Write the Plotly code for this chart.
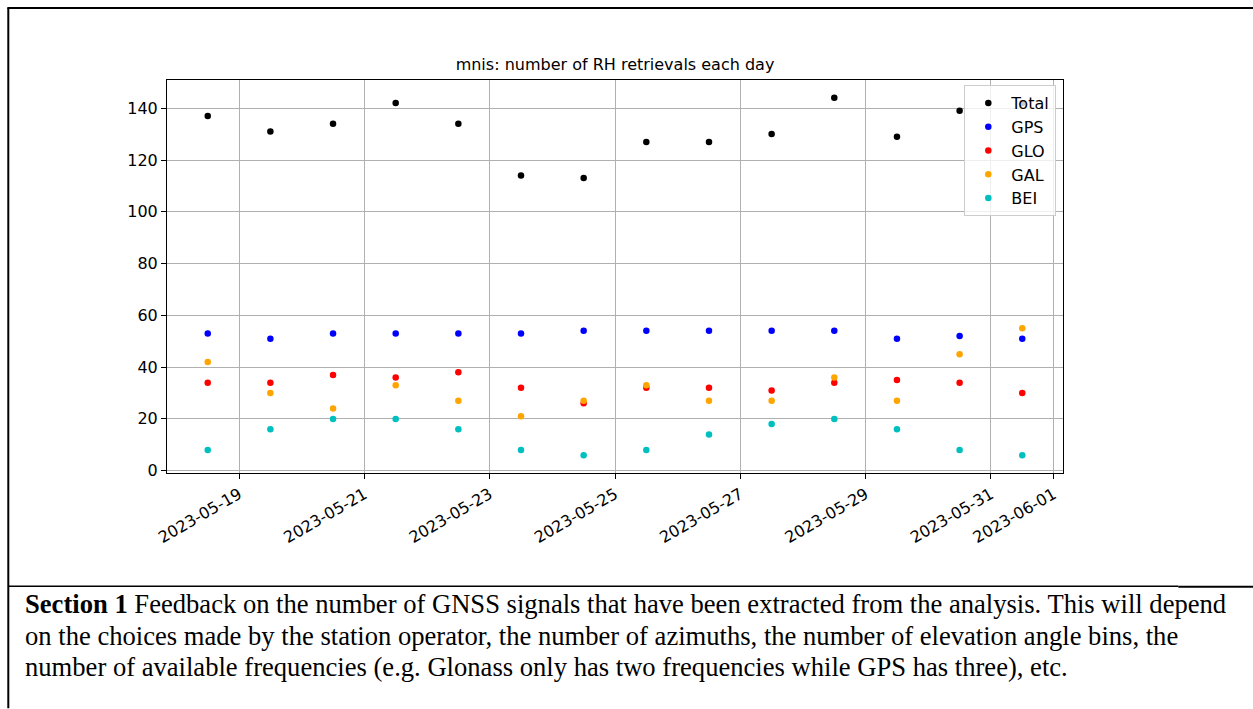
import plotly.graph_objects as go

# ---------------- data ----------------
dates = ["2023-05-18 12:00", "2023-05-19 12:00", "2023-05-20 12:00", "2023-05-21 12:00",
         "2023-05-22 12:00", "2023-05-23 12:00", "2023-05-24 12:00", "2023-05-25 12:00",
         "2023-05-26 12:00", "2023-05-27 12:00", "2023-05-28 12:00", "2023-05-29 12:00",
         "2023-05-30 12:00", "2023-05-31 12:00"]
total = [137, 131, 134, 142, 134, 114, 113, 127, 127, 130, 144, 129, 139, 142]
gps = [53, 51, 53, 53, 53, 53, 54, 54, 54, 54, 54, 51, 52, 51]
glo = [34, 34, 37, 36, 38, 32, 26, 32, 32, 31, 34, 35, 34, 30]
gal = [42, 30, 24, 33, 27, 21, 27, 33, 27, 27, 36, 27, 45, 55]
bei = [8, 16, 20, 20, 16, 8, 6, 8, 14, 18, 20, 16, 8, 6]

series_names = ["Total", "GPS", "GLO", "GAL", "BEI"]
series_values = [total, gps, glo, gal, bei]
series_colors = ["#000000", "#0000ff", "#ff0000", "#ffa500", "#00bfbf"]

x_tick_vals = ["2023-05-19", "2023-05-21", "2023-05-23", "2023-05-25", "2023-05-27",
               "2023-05-29", "2023-05-31", "2023-06-01"]
x_tick_text = x_tick_vals
y_tick_vals = [0, 20, 40, 60, 80, 100, 120, 140]

title_text = "mnis: number of RH retrievals each day"
caption_lines = [
    "<b>Section 1</b> Feedback on the number of GNSS signals that have been extracted from the analysis. This will depend",
    "on the choices made by the station operator, the number of azimuths, the number of elevation angle bins, the",
    "number of available frequencies (e.g. Glonass only has two frequencies while GPS has three), etc.",
]

# ---------------- layout geometry ----------------
W, H = 1253, 709
L, R_EDGE, T, B_EDGE = 166.7, 1062.7, 80.0, 473.5
PW, PH = R_EDGE - L, B_EDGE - T


def px(x):
    return (x - L) / PW


def py(y):
    return (B_EDGE - y) / PH


fig = go.Figure()
for name, vals, col in zip(series_names, series_values, series_colors):
    fig.add_trace(go.Scatter(
        x=dates, y=vals, mode="markers", name=name,
        marker=dict(color=col, size=6.5, line=dict(width=0)),
    ))

axis_font = dict(family="DejaVu Sans", size=16, color="black")

fig.update_layout(
    width=W, height=H,
    margin=dict(l=L, r=W - R_EDGE, t=T, b=H - B_EDGE, pad=0, autoexpand=False),
    paper_bgcolor="white", plot_bgcolor="white",
    font=dict(family="DejaVu Sans", size=16, color="black"),
    title=dict(text=title_text, x=px((L + R_EDGE) / 2), xref="paper", xanchor="center",
               y=1 - 64 / H, yref="container", yanchor="middle",
               font=dict(family="DejaVu Sans", size=16, color="black")),
    showlegend=True,
    legend=dict(x=px(1056), y=py(85), xanchor="right", yanchor="top",
                bgcolor="rgba(255,255,255,0.8)", bordercolor="#cccccc", borderwidth=1,
                font=dict(family="DejaVu Sans", size=16, color="black"),
                itemwidth=36),
    xaxis=dict(
        type="date",
        range=["2023-05-17 20:24", "2023-06-01 03:36"],
        tickmode="array", tickvals=x_tick_vals, ticktext=x_tick_text, tickangle=-30,
        showgrid=True, gridcolor="#b0b0b0", gridwidth=1,
        showline=True, linecolor="black", linewidth=1, mirror=True,
        ticks="outside", ticklen=5, tickwidth=1, tickcolor="black",
        tickfont=axis_font, zeroline=False,
    ),
    yaxis=dict(
        range=[-0.9, 150.9],
        tickmode="array", tickvals=y_tick_vals,
        showgrid=True, gridcolor="#b0b0b0", gridwidth=1,
        showline=True, linecolor="black", linewidth=1, mirror=True,
        ticks="outside", ticklen=5, tickwidth=1, tickcolor="black",
        tickfont=axis_font, zeroline=False,
    ),
)

# document frame lines
line_style = dict(color="black", width=2)
fig.add_shape(type="line", xref="paper", yref="paper", x0=px(7), x1=px(1253), y0=py(8), y1=py(8), line=line_style)
fig.add_shape(type="line", xref="paper", yref="paper", x0=px(8), x1=px(8), y0=py(8), y1=py(709), line=line_style)
fig.add_shape(type="line", xref="paper", yref="paper", x0=px(8), x1=px(1178), y0=py(587), y1=py(587),
              line=dict(color="black", width=1.5))
fig.add_shape(type="line", xref="paper", yref="paper", x0=px(1178), x1=px(1253), y0=py(587.5), y1=py(587.5),
              line=dict(color="black", width=2))

# caption text
for i, txt in enumerate(caption_lines):
    fig.add_annotation(
        text=txt, xref="paper", yref="paper", x=px(23), y=py(605 + i * 31.5),
        xanchor="left", yanchor="middle", showarrow=False, align="left",
        font=dict(family="Liberation Serif", size=26.6, color="black"),
    )

fig.write_html("out.html", config={"displayModeBar": False},
               post_script="document.body.style.margin='0px';")
